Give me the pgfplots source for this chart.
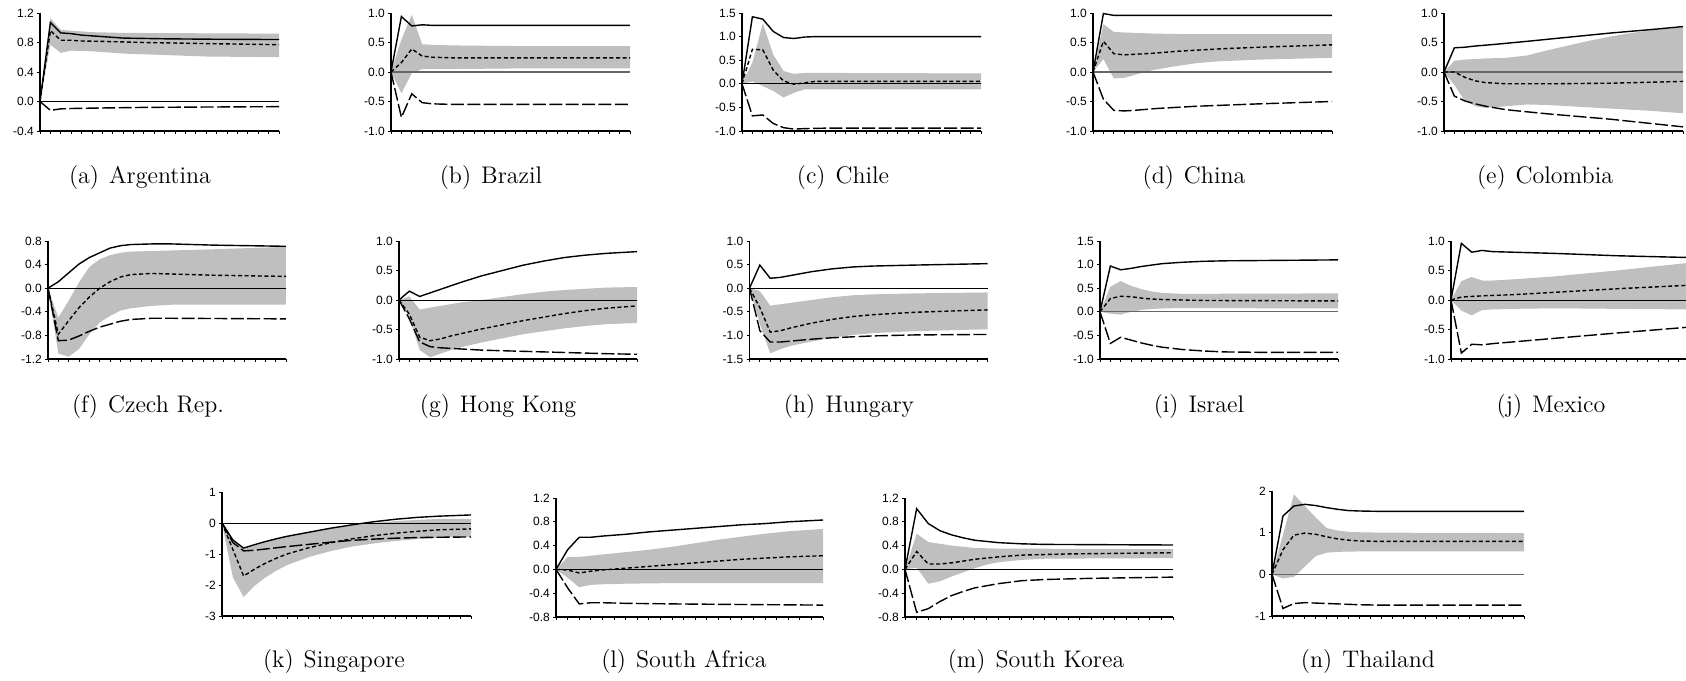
\documentclass[border=0pt]{standalone}
\usepackage{fontspec}
\usepackage{pgfplots}
\pgfplotsset{compat=1.18}
\newfontfamily\tickfont{Liberation Sans}
\pgfplotsset{
  irf/.style={scale only axis, anchor=south west,
    axis lines*=left, axis line style={-, line width=0.7pt},
    xmin=0, xmax=23, xtick={0,...,23}, xticklabels={},
    tick align=outside, major tick length=1.4pt,
    tick style={black, line width=0.45pt},
    xtick pos=bottom, ytick pos=left,
    yticklabel style={font=\tickfont\fontsize{6}{7}\selectfont, inner sep=0pt},
    yticklabel shift=1.5pt,
    clip=false},
  band/.style={fill=gray!50, draw=none, forget plot},
  zeroline/.style={black, line width=0.4pt},
  zerogray/.style={black!60, line width=0.7pt},
  solidirf/.style={black, line width=0.7pt},
  shortirf/.style={black, line width=0.7pt, dash pattern=on 2pt off 1.3pt},
  longirf/.style={black, line width=0.7pt, dash pattern=on 6.5pt off 1.7pt},
}
\newcommand{\irf}[5]{%
  \addplot[band] coordinates {#1};
  \addplot[#5] coordinates {(0,0) (23,0)};
  \addplot[solidirf] coordinates {#2};
  \addplot[shortirf] coordinates {#3};
  \addplot[longirf] coordinates {#4};
}
\newcommand{\capt}[1]{\fontsize{12}{14}\selectfont #1}
\begin{document}
\begin{tikzpicture}
\useasboundingbox (0,0) rectangle (843pt,340pt);
% ---------- Row 1 ----------
\begin{axis}[irf, at={(20pt,274.5pt)}, width=119.5pt, height=59pt,
  ymin=-0.4, ymax=1.2, ytick={-0.4,0,0.4,0.8,1.2}, yticklabels={-0.4,0.0,0.4,0.8,1.2}]
\irf{(0,0)(1,1.13)(2,0.97)(3,0.96)(5,0.94)(8,0.93)(23,0.92)(23,0.60)(16,0.61)(12,0.63)(8,0.65)(5,0.68)(3,0.69)(2,0.66)(1,0.77)(0,0)}
{(0,0)(1,1.07)(2,0.93)(3,0.92)(4,0.90)(5,0.89)(6,0.88)(8,0.86)(10,0.855)(12,0.85)(16,0.845)(23,0.84)}
{(0,0)(1,0.96)(2,0.83)(3,0.83)(4,0.82)(6,0.815)(10,0.80)(16,0.785)(23,0.77)}
{(0,0)(1,-0.12)(2,-0.10)(3,-0.095)(5,-0.09)(10,-0.08)(16,-0.075)(23,-0.07)}{zeroline}
\end{axis}
\begin{axis}[irf, at={(195.5pt,274.5pt)}, width=119.5pt, height=59pt,
  ymin=-1, ymax=1, ytick={-1,-0.5,0,0.5,1}, yticklabels={-1.0,-0.5,0.0,0.5,1.0}]
\irf{(0,0)(1,0.55)(2,0.97)(3,0.47)(4,0.46)(6,0.45)(12,0.44)(23,0.44)(23,0.06)(12,0.06)(6,0.05)(4,0.05)(3,0.05)(2,-0.02)(1,-0.36)(0,0)}
{(0,0)(1,0.94)(2,0.78)(3,0.80)(4,0.79)(23,0.79)}
{(0,0)(1,0.16)(2,0.39)(3,0.27)(4,0.25)(6,0.24)(23,0.24)}
{(0,0)(1,-0.77)(2,-0.37)(3,-0.52)(4,-0.54)(6,-0.55)(23,-0.55)}{zerogray}
\end{axis}
\begin{axis}[irf, at={(371pt,274.5pt)}, width=119.5pt, height=59pt,
  ymin=-1, ymax=1.5, ytick={-1,-0.5,0,0.5,1,1.5}, yticklabels={-1.0,-0.5,0.0,0.5,1.0,1.5}]
\irf{(0,0)(1,0.45)(2,1.28)(3,0.62)(4,0.27)(5,0.21)(6,0.23)(8,0.23)(23,0.22)(23,-0.12)(8,-0.12)(6,-0.12)(5,-0.19)(4,-0.29)(3,-0.15)(2,-0.05)(1,0.05)(0,0)}
{(0,0)(1,1.42)(2,1.37)(3,1.11)(4,0.98)(5,0.96)(6,0.99)(7,1.0)(23,1.0)}
{(0,0)(1,0.73)(2,0.72)(3,0.29)(4,0.06)(5,-0.01)(6,0.02)(7,0.05)(8,0.05)(23,0.05)}
{(0,0)(1,-0.68)(2,-0.66)(3,-0.84)(4,-0.93)(5,-0.96)(6,-0.95)(8,-0.94)(23,-0.94)}{zeroline}
\end{axis}
\begin{axis}[irf, at={(546.5pt,274.5pt)}, width=119.5pt, height=59pt,
  ymin=-1, ymax=1, ytick={-1,-0.5,0,0.5,1}, yticklabels={-1.0,-0.5,0.0,0.5,1.0}]
\irf{(0,0)(1,0.81)(2,0.68)(3,0.67)(6,0.65)(10,0.64)(23,0.64)(23,0.24)(16,0.21)(12,0.18)(10,0.15)(8,0.10)(6,0.04)(5,0.0)(4,-0.05)(3,-0.10)(2,-0.11)(1,0.22)(0,0)}
{(0,0)(1,0.99)(2,0.96)(23,0.96)}
{(0,0)(1,0.52)(2,0.31)(3,0.29)(4,0.30)(6,0.32)(8,0.35)(12,0.39)(16,0.42)(23,0.46)}
{(0,0)(1,-0.46)(2,-0.65)(3,-0.66)(4,-0.65)(6,-0.62)(10,-0.58)(16,-0.54)(23,-0.50)}{zerogray}
\end{axis}
\begin{axis}[irf, at={(722pt,274.5pt)}, width=119.5pt, height=59pt,
  ymin=-1, ymax=1, ytick={-1,-0.5,0,0.5,1}, yticklabels={-1.0,-0.5,0.0,0.5,1.0}]
\irf{(0,0)(1,0.19)(2,0.21)(4,0.23)(6,0.24)(8,0.28)(10,0.37)(12,0.45)(14,0.53)(16,0.60)(18,0.66)(20,0.71)(23,0.76)(23,-0.70)(20,-0.66)(16,-0.62)(12,-0.58)(10,-0.56)(8,-0.55)(6,-0.58)(4,-0.61)(3,-0.58)(2,-0.49)(1,-0.22)(0,0)}
{(0,0)(1,0.41)(2,0.42)(3,0.44)(5,0.47)(8,0.52)(12,0.59)(16,0.66)(20,0.72)(23,0.77)}
{(0,0)(1,0.0)(2,-0.09)(3,-0.15)(4,-0.18)(5,-0.19)(6,-0.20)(10,-0.20)(16,-0.19)(23,-0.16)}
{(0,0)(1,-0.41)(2,-0.49)(3,-0.54)(4,-0.58)(6,-0.64)(10,-0.71)(16,-0.80)(23,-0.93)}{zerogray}
\end{axis}
% ---------- Row 2 ----------
\begin{axis}[irf, at={(24pt,160.5pt)}, width=119pt, height=59pt,
  ymin=-1.2, ymax=0.8, ytick={-1.2,-0.8,-0.4,0,0.4,0.8}, yticklabels={-1.2,-0.8,-0.4,0.0,0.4,0.8}]
\irf{(0,0)(1,-0.50)(2,-0.21)(3,0.10)(4,0.36)(5,0.49)(6,0.56)(7,0.60)(8,0.62)(10,0.63)(12,0.64)(16,0.66)(23,0.70)(23,-0.28)(12,-0.28)(10,-0.30)(8,-0.34)(7,-0.38)(6,-0.47)(5,-0.58)(4,-0.78)(3,-1.03)(2,-1.16)(1,-1.11)(0,0)}
{(0,0)(1,0.11)(2,0.26)(3,0.41)(4,0.52)(5,0.60)(6,0.68)(7,0.72)(8,0.74)(10,0.75)(12,0.75)(16,0.73)(23,0.71)}
{(0,0)(1,-0.78)(2,-0.55)(3,-0.33)(4,-0.15)(5,0.0)(6,0.11)(7,0.19)(8,0.23)(10,0.25)(12,0.24)(16,0.22)(23,0.20)}
{(0,0)(1,-0.89)(2,-0.88)(3,-0.81)(4,-0.73)(5,-0.66)(6,-0.61)(7,-0.56)(8,-0.53)(10,-0.51)(12,-0.51)(23,-0.52)}{zeroline}
\end{axis}
\begin{axis}[irf, at={(199.5pt,160.5pt)}, width=119pt, height=59pt,
  ymin=-1, ymax=1, ytick={-1,-0.5,0,0.5,1}, yticklabels={-1.0,-0.5,0.0,0.5,1.0}]
\irf{(0,0)(1,0.06)(2,-0.16)(3,-0.13)(4,-0.10)(6,-0.04)(8,0.0)(10,0.05)(12,0.10)(14,0.14)(16,0.17)(18,0.19)(20,0.21)(23,0.22)(23,-0.39)(20,-0.41)(18,-0.44)(16,-0.48)(14,-0.53)(12,-0.58)(10,-0.65)(8,-0.72)(6,-0.80)(5,-0.85)(4,-0.91)(3,-0.97)(2,-0.85)(1,-0.29)(0,0)}
{(0,0)(1,0.15)(2,0.06)(3,0.12)(4,0.18)(5,0.24)(6,0.30)(8,0.41)(10,0.50)(12,0.59)(14,0.66)(16,0.72)(18,0.76)(20,0.79)(23,0.82)}
{(0,0)(1,-0.24)(2,-0.63)(3,-0.69)(4,-0.66)(5,-0.61)(6,-0.57)(8,-0.49)(10,-0.42)(12,-0.35)(14,-0.29)(16,-0.23)(18,-0.18)(20,-0.14)(23,-0.10)}
{(0,0)(1,-0.32)(2,-0.71)(3,-0.79)(4,-0.81)(5,-0.82)(6,-0.83)(8,-0.85)(10,-0.86)(12,-0.87)(16,-0.89)(20,-0.91)(23,-0.92)}{zeroline}
\end{axis}
\begin{axis}[irf, at={(374.75pt,160.5pt)}, width=119pt, height=59pt,
  ymin=-1.5, ymax=1, ytick={-1.5,-1,-0.5,0,0.5,1}, yticklabels={-1.5,-1.0,-0.5,0.0,0.5,1.0}]
\irf{(0,0)(1,-0.06)(2,-0.37)(3,-0.34)(4,-0.31)(6,-0.25)(8,-0.19)(10,-0.15)(12,-0.13)(16,-0.11)(23,-0.09)(23,-0.87)(16,-0.91)(12,-0.95)(10,-0.99)(8,-1.05)(6,-1.13)(4,-1.22)(3,-1.29)(2,-1.38)(1,-0.76)(0,0)}
{(0,0)(1,0.49)(2,0.21)(3,0.23)(4,0.27)(5,0.31)(6,0.35)(8,0.41)(10,0.45)(12,0.47)(16,0.49)(23,0.52)}
{(0,0)(1,-0.41)(2,-0.93)(3,-0.90)(4,-0.84)(5,-0.79)(6,-0.74)(8,-0.66)(10,-0.60)(12,-0.56)(16,-0.51)(20,-0.48)(23,-0.46)}
{(0,0)(1,-0.90)(2,-1.14)(3,-1.14)(4,-1.12)(5,-1.10)(6,-1.08)(8,-1.05)(10,-1.03)(12,-1.01)(16,-0.99)(23,-0.98)}{zeroline}
\end{axis}
\begin{axis}[irf, at={(550pt,160.5pt)}, width=119pt, height=59pt,
  ymin=-1, ymax=1.5, ytick={-1,-0.5,0,0.5,1,1.5}, yticklabels={-1.0,-0.5,0.0,0.5,1.0,1.5}]
\irf{(0,0)(1,0.53)(2,0.65)(3,0.55)(4,0.48)(5,0.43)(6,0.40)(8,0.38)(23,0.39)(23,0.07)(8,0.08)(6,0.07)(5,0.06)(4,0.04)(3,0.0)(2,-0.06)(1,-0.04)(0,0)}
{(0,0)(1,0.97)(2,0.89)(3,0.92)(4,0.96)(5,0.99)(6,1.02)(8,1.05)(10,1.07)(12,1.08)(23,1.10)}
{(0,0)(1,0.28)(2,0.33)(3,0.32)(4,0.29)(5,0.27)(6,0.26)(8,0.25)(10,0.24)(23,0.23)}
{(0,0)(1,-0.67)(2,-0.54)(3,-0.60)(4,-0.66)(5,-0.71)(6,-0.75)(8,-0.80)(10,-0.83)(12,-0.85)(16,-0.86)(23,-0.86)}{zerogray}
\end{axis}
\begin{axis}[irf, at={(725.5pt,160.5pt)}, width=119pt, height=59pt,
  ymin=-1, ymax=1, ytick={-1,-0.5,0,0.5,1}, yticklabels={-1.0,-0.5,0.0,0.5,1.0}]
\irf{(0,0)(1,0.32)(2,0.39)(3,0.33)(4,0.33)(6,0.35)(10,0.40)(16,0.50)(23,0.63)(23,-0.16)(16,-0.15)(10,-0.14)(6,-0.15)(4,-0.16)(3,-0.17)(2,-0.26)(1,-0.18)(0,0)}
{(0,0)(1,0.96)(2,0.81)(3,0.84)(4,0.82)(6,0.81)(10,0.79)(16,0.75)(23,0.72)}
{(0,0)(1,0.05)(2,0.06)(3,0.07)(6,0.09)(10,0.13)(16,0.19)(23,0.25)}
{(0,0)(1,-0.90)(2,-0.75)(3,-0.76)(4,-0.74)(6,-0.71)(10,-0.65)(16,-0.56)(23,-0.46)}{zeroline}
\end{axis}
% ---------- Row 3 ----------
\begin{axis}[irf, at={(111pt,32pt)}, width=124.5pt, height=62pt,
  ymin=-3, ymax=1, ytick={-3,-2,-1,0,1}, yticklabels={-3,-2,-1,0,1}]
\irf{(0,0)(1,-0.50)(2,-0.84)(3,-0.73)(4,-0.62)(5,-0.52)(6,-0.43)(8,-0.30)(10,-0.18)(12,-0.08)(14,0.0)(16,0.06)(18,0.10)(20,0.13)(23,0.13)(23,-0.44)(20,-0.48)(18,-0.52)(16,-0.58)(14,-0.66)(12,-0.76)(10,-0.91)(8,-1.10)(6,-1.36)(5,-1.54)(4,-1.76)(3,-2.03)(2,-2.39)(1,-1.75)(0,0)}
{(0,0)(1,-0.55)(2,-0.81)(3,-0.70)(4,-0.60)(5,-0.51)(6,-0.43)(8,-0.30)(10,-0.17)(12,-0.06)(14,0.04)(16,0.12)(18,0.18)(20,0.22)(23,0.26)}
{(0,0)(1,-0.85)(2,-1.71)(3,-1.49)(4,-1.30)(5,-1.14)(6,-1.00)(8,-0.80)(10,-0.64)(12,-0.51)(14,-0.41)(16,-0.33)(18,-0.27)(20,-0.22)(23,-0.19)}
{(0,0)(1,-0.63)(2,-0.90)(3,-0.88)(4,-0.84)(5,-0.80)(6,-0.76)(8,-0.69)(10,-0.62)(12,-0.56)(14,-0.52)(16,-0.49)(18,-0.47)(20,-0.46)(23,-0.45)}{zeroline}
\end{axis}
\begin{axis}[irf, at={(278pt,31.5pt)}, width=133.5pt, height=59.5pt,
  ymin=-0.8, ymax=1.2, ytick={-0.8,-0.4,0,0.4,0.8,1.2}, yticklabels={-0.8,-0.4,0.0,0.4,0.8,1.2}]
\irf{(0,0)(1,0.21)(2,0.21)(3,0.23)(4,0.25)(6,0.29)(8,0.33)(10,0.38)(12,0.44)(14,0.50)(16,0.55)(18,0.60)(20,0.64)(23,0.68)(23,-0.23)(16,-0.23)(10,-0.23)(6,-0.24)(4,-0.25)(3,-0.26)(2,-0.30)(1,-0.14)(0,0)}
{(0,0)(1,0.33)(2,0.54)(3,0.54)(4,0.56)(6,0.59)(8,0.63)(10,0.66)(12,0.69)(14,0.72)(16,0.75)(18,0.77)(20,0.80)(23,0.83)}
{(0,0)(1,-0.01)(2,-0.06)(3,-0.03)(4,-0.01)(6,0.02)(8,0.05)(10,0.08)(12,0.11)(14,0.14)(16,0.17)(18,0.19)(20,0.21)(23,0.23)}
{(0,0)(1,-0.31)(2,-0.58)(3,-0.56)(4,-0.56)(6,-0.57)(10,-0.58)(16,-0.59)(23,-0.60)}{zeroline}
\end{axis}
\begin{axis}[irf, at={(452.5pt,31.5pt)}, width=134pt, height=59.5pt,
  ymin=-0.8, ymax=1.2, ytick={-0.8,-0.4,0,0.4,0.8,1.2}, yticklabels={-0.8,-0.4,0.0,0.4,0.8,1.2}]
\irf{(0,0)(1,0.60)(2,0.46)(3,0.43)(4,0.40)(5,0.38)(6,0.36)(8,0.35)(23,0.34)(23,0.19)(12,0.18)(10,0.16)(8,0.12)(7,0.08)(6,0.02)(5,-0.05)(4,-0.12)(3,-0.20)(2,-0.24)(1,0.03)(0,0)}
{(0,0)(1,1.02)(2,0.77)(3,0.65)(4,0.58)(5,0.53)(6,0.49)(8,0.45)(10,0.43)(12,0.42)(23,0.41)}
{(0,0)(1,0.30)(2,0.09)(3,0.09)(4,0.11)(5,0.14)(6,0.17)(8,0.21)(10,0.24)(12,0.25)(14,0.26)(23,0.28)}
{(0,0)(1,-0.72)(2,-0.66)(3,-0.54)(4,-0.44)(5,-0.37)(6,-0.31)(8,-0.24)(10,-0.19)(12,-0.17)(16,-0.15)(23,-0.13)}{zeroline}
\end{axis}
\begin{axis}[irf, at={(636pt,32pt)}, width=126pt, height=62.5pt,
  ymin=-1, ymax=2, ytick={-1,0,1,2}, yticklabels={-1,0,1,2}]
\irf{(0,0)(1,0.95)(2,1.92)(3,1.64)(4,1.36)(5,1.11)(6,1.05)(7,1.02)(8,1.01)(10,1.0)(23,0.99)(23,0.55)(8,0.55)(6,0.54)(5,0.52)(4,0.44)(3,0.19)(2,-0.06)(1,-0.10)(0,0)}
{(0,0)(1,1.40)(2,1.64)(3,1.68)(4,1.65)(5,1.60)(6,1.56)(7,1.53)(8,1.52)(10,1.51)(23,1.51)}
{(0,0)(1,0.59)(2,0.94)(3,0.99)(4,0.96)(5,0.90)(6,0.85)(7,0.82)(8,0.80)(10,0.79)(23,0.79)}
{(0,0)(1,-0.82)(2,-0.70)(3,-0.68)(4,-0.69)(6,-0.71)(8,-0.73)(10,-0.74)(23,-0.74)}{zerogray}
\end{axis}
% ---------- Captions ----------
\foreach \cx/\cy/\t in {70/248/(a)\hspace{5pt}Argentina, 245.5/248/(b)\hspace{5pt}Brazil,
  421.5/248/(c)\hspace{5pt}Chile, 597/248/(d)\hspace{5pt}China, 772.5/248/(e)\hspace{5pt}Colombia,
  74/133.5/(f)\hspace{5pt}Czech Rep., 249/133.5/(g)\hspace{5pt}Hong Kong, 424.5/133.5/(h)\hspace{5pt}Hungary,
  599.5/133.5/(i)\hspace{5pt}Israel, 775.5/133.5/(j)\hspace{5pt}Mexico,
  167/6.5/(k)\hspace{5pt}Singapore, 342/6.5/(l)\hspace{5pt}South Africa, 518/6.5/(m)\hspace{5pt}South Korea, 684/6.5/(n)\hspace{5pt}Thailand}
  {\node[anchor=base, inner sep=0pt] at (\cx pt,\cy pt) {\capt{\t}};}
\end{tikzpicture}
\end{document}
